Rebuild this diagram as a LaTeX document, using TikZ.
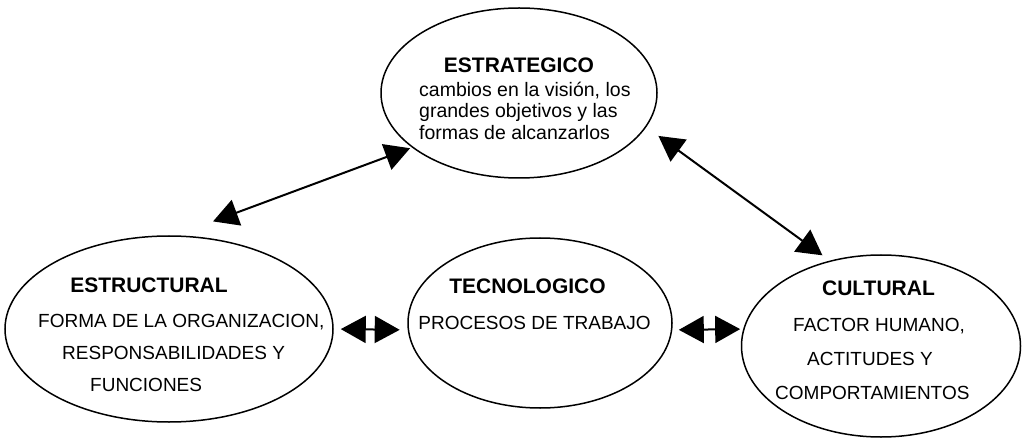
\documentclass[tikz,border=0pt]{standalone}
\usepackage{fontspec}
\setmainfont{Liberation Sans}
\usepackage{tikz}
\usetikzlibrary{shapes.geometric,arrows.meta}

\begin{document}
\begin{tikzpicture}[x=1pt,y=-1pt,
        area/.style={ellipse,draw,line width=1.5pt,inner sep=0pt},
        title/.style={font=\fontsize{21}{24}\selectfont\bfseries,inner sep=0pt,anchor=base},
        body/.style={font=\fontsize{19}{32}\selectfont,align=left,inner sep=0pt,anchor=north west},
        link/.style={{Triangle[length=25pt,width=27pt]}-{Triangle[length=25pt,width=27pt]},line width=2pt},
    ]
    \useasboundingbox (0,0) rectangle (1022,438);

    % the four areas
    \node[area,minimum width=276pt,minimum height=170pt] (estrategico) at (519,93) {};
    \node[area,minimum width=328pt,minimum height=186pt] (estructural) at (169,329) {};
    \node[area,minimum width=264pt,minimum height=170pt] (tecnologico) at (540,323) {};
    \node[area,minimum width=279pt,minimum height=182pt] (cultural) at (881,346) {};

    % texts
    \node[title] (t-estrategico) at (519,72.5) {ESTRATEGICO};
    \node[body,font=\fontsize{19.5}{21.5}\selectfont] (b-estrategico) at (419,81.5)
        {cambios en la visión, los\\grandes objetivos y las\\formas de alcanzarlos};

    \node[title] (t-estructural) at (149,292.5) {ESTRUCTURAL};
    \node[body] (b-estructural) at (38,314)
        {FORMA DE LA ORGANIZACION,\\\hspace*{24pt}RESPONSABILIDADES Y\\\hspace*{52pt}FUNCIONES};

    \node[title] (t-tecnologico) at (527.5,293.5) {TECNOLOGICO};
    \node[body,anchor=base] (b-tecnologico) at (534.5,329.8) {PROCESOS DE TRABAJO};

    \node[title] (t-cultural) at (878.5,295.5) {CULTURAL};
    \node[body,font=\fontsize{19}{34}\selectfont] (b-cultural) at (775,318)
        {\hspace*{18pt}FACTOR HUMANO,\\\hspace*{32pt}ACTITUDES Y\\COMPORTAMIENTOS};

    % links
    \draw[link,shorten <=40pt,shorten >=2pt] (estructural.86) -- (estrategico.207);
    \draw[link,shorten <=15pt,shorten >=9pt] (estrategico.345) -- (cultural.121);
    \draw[link,shorten <=7pt,shorten >=8pt] (estructural.east) -- (tecnologico.183);
    \draw[link,shorten <=6.5pt,shorten >=3pt] (tecnologico.357) -- (cultural.173);
\end{tikzpicture}
\end{document}
